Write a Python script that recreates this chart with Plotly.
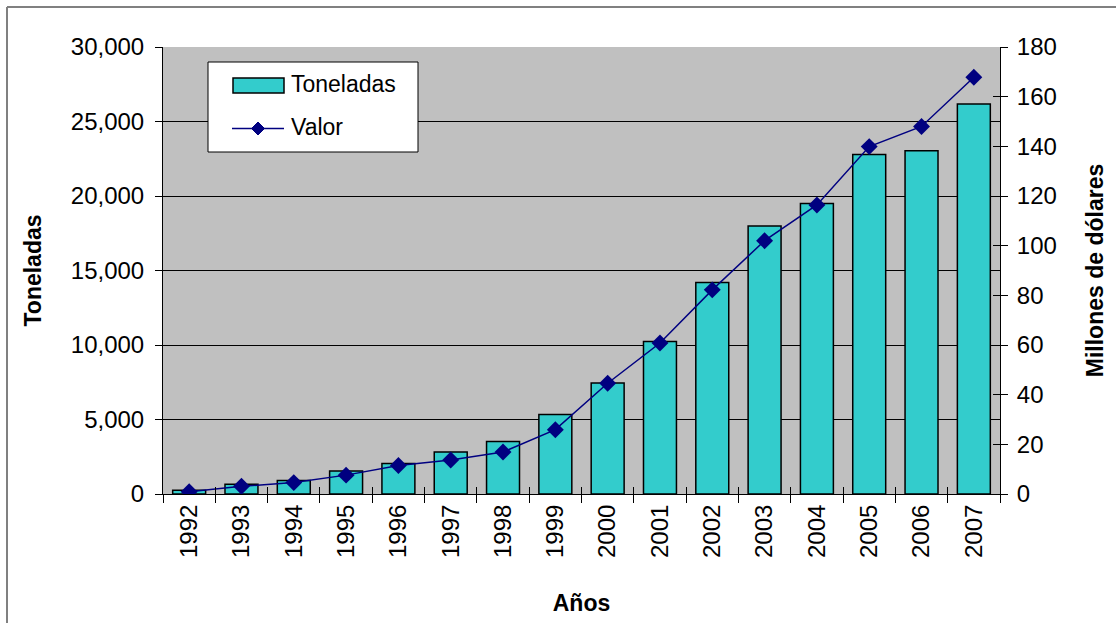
import plotly.graph_objects as go

years = ["1992", "1993", "1994", "1995", "1996", "1997", "1998", "1999",
         "2000", "2001", "2002", "2003", "2004", "2005", "2006", "2007"]
toneladas = [260, 650, 910, 1540, 2050, 2820, 3530, 5340,
             7450, 10230, 14200, 17990, 19500, 22790, 23040, 26180]
valor = [0.9, 3.1, 4.6, 7.6, 11.5, 13.7, 16.9, 25.9,
         44.6, 60.8, 82.2, 102.0, 116.4, 139.9, 148.0, 167.8]

W, H = 1116, 623
L, R, T, B = 163, 116, 47, 129
PW, PH = W - L - R, H - T - B
font = "Liberation Sans, Arial, sans-serif"
TEAL = "#33CCCC"
NAVY = "#000080"


def px(x):
    return (x - L) / PW


def py(y):
    return (H - B - y) / PH


fig = go.Figure()
fig.add_trace(go.Bar(
    x=years, y=toneladas, name="Toneladas",
    marker=dict(color=TEAL, line=dict(color="black", width=1.5)),
    yaxis="y",
))
fig.add_trace(go.Scatter(
    x=years, y=valor, name="Valor", mode="lines+markers",
    line=dict(color=NAVY, width=1.5),
    marker=dict(symbol="diamond", size=13, color=NAVY),
    yaxis="y2",
))

axis_common = dict(showline=True, linecolor="black", linewidth=1, tickcolor="black")
xrange = [-0.5, len(years) - 0.5]

fig.update_layout(
    width=W, height=H,
    margin=dict(l=L, r=R, t=T, b=B, autoexpand=False),
    paper_bgcolor="white", plot_bgcolor="#C0C0C0",
    font=dict(family=font, size=24, color="black"),
    bargap=0.37,
    showlegend=False,
    xaxis=dict(
        type="category", range=xrange, **axis_common,
        ticks="outside", tickson="boundaries", ticklen=8,
        tickangle=-90, showgrid=False,
        title=dict(text="<b>Años</b>", font=dict(size=23), standoff=37),
    ),
    xaxis2=dict(
        type="category", range=xrange, overlaying="x", side="bottom",
        showline=False, ticks="inside", tickson="boundaries", ticklen=7,
        tickcolor="black", showticklabels=False, showgrid=False,
    ),
    yaxis=dict(
        range=[0, 30000], dtick=5000, tickformat=",", **axis_common,
        ticks="outside", ticklen=7, ticklabelstandoff=6,
        showgrid=True, gridcolor="black", gridwidth=1, zeroline=False,
        title=dict(text="<b>Toneladas</b>", font=dict(size=23), standoff=22),
    ),
    yaxis2=dict(
        range=[0, 180], dtick=20, overlaying="y", side="right", **axis_common,
        ticks="outside", ticklen=7, ticklabelstandoff=4,
        showgrid=False, zeroline=False,
        title=dict(text="<b>Millones de dólares</b>", font=dict(size=23), standoff=31),
    ),
    yaxis3=dict(
        range=[0, 30000], dtick=5000, overlaying="y", side="left",
        showline=False, ticks="inside", ticklen=7, tickcolor="black",
        showticklabels=False, showgrid=False, zeroline=False,
    ),
    yaxis4=dict(
        range=[0, 180], dtick=20, overlaying="y", side="right",
        showline=False, ticks="inside", ticklen=7, tickcolor="black",
        showticklabels=False, showgrid=False, zeroline=False,
    ),
    shapes=[
        # legend box
        dict(type="rect", xref="paper", yref="paper",
             x0=px(208), x1=px(418), y0=py(152), y1=py(62),
             fillcolor="white", line=dict(color="black", width=1), layer="above"),
        # legend bar swatch
        dict(type="rect", xref="paper", yref="paper",
             x0=px(233), x1=px(284), y0=py(93), y1=py(78),
             fillcolor=TEAL, line=dict(color="black", width=1.5), layer="above"),
        # legend line swatch
        dict(type="line", xref="paper", yref="paper",
             x0=px(232), x1=px(284), y0=py(128.5), y1=py(128.5),
             line=dict(color=NAVY, width=1.5), layer="above"),
        dict(type="path", xref="paper", yref="paper",
             path=(f"M {px(258)},{py(122)} L {px(264.5)},{py(128.5)} "
                   f"L {px(258)},{py(135)} L {px(251.5)},{py(128.5)} Z"),
             fillcolor=NAVY, line=dict(color=NAVY, width=1), layer="above"),
        # outer border (top and left)
        dict(type="line", xref="paper", yref="paper",
             x0=px(7), x1=px(W + 5), y0=py(7), y1=py(7),
             line=dict(color="#808080", width=2)),
        dict(type="line", xref="paper", yref="paper",
             x0=px(7), x1=px(7), y0=py(7), y1=py(H + 5),
             line=dict(color="#808080", width=2)),
    ],
    annotations=[
        dict(text="Toneladas", xref="paper", yref="paper", x=px(289), y=py(84),
             xanchor="left", yanchor="middle", showarrow=False,
             font=dict(family=font, size=23)),
        dict(text="Valor", xref="paper", yref="paper", x=px(289), y=py(127),
             xanchor="left", yanchor="middle", showarrow=False,
             font=dict(family=font, size=23)),
    ],
)

# bind the helper axes to hidden traces so their crossing ticks render
fig.add_trace(go.Scatter(x=years, y=[None] * len(years), xaxis="x2", yaxis="y3",
                         showlegend=False, hoverinfo="skip"))
fig.add_trace(go.Scatter(x=years, y=[None] * len(years), xaxis="x2", yaxis="y4",
                         showlegend=False, hoverinfo="skip"))

fig.write_html("out.html", config={"displayModeBar": False},
               post_script="document.body.style.margin='0';")
